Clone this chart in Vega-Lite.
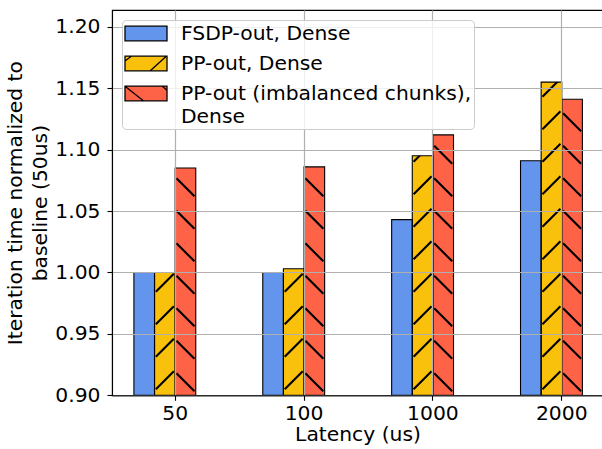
{
  "$schema": "https://vega.github.io/schema/vega-lite/v6.json",
  "width": 491,
  "height": 385.3,
  "autosize": {"type": "none"},
  "padding": {"left": 112, "top": 10, "right": -1, "bottom": 53.7},
  "background": "white",
  "config": {
    "view": {"stroke": "black", "strokeWidth": 1.1},
    "font": "DejaVu Sans",
    "axis": {
      "domainColor": "black",
      "domainWidth": 1.1,
      "tickColor": "black",
      "tickWidth": 1.1,
      "tickSize": 5,
      "tickRound": true,
      "labelColor": "black",
      "labelFontSize": 20.3,
      "labelFont": "DejaVu Sans",
      "titleFont": "DejaVu Sans",
      "titleFontSize": 20.3,
      "titleFontWeight": "normal",
      "titleColor": "black"
    },
    "legend": {
      "labelFont": "DejaVu Sans",
      "labelFontSize": 20.3,
      "labelColor": "black",
      "labelLimit": 400
    }
  },
  "data": {
    "values": [
      {"latency": "50", "series": "FSDP-out, Dense", "value": 1.0},
      {"latency": "100", "series": "FSDP-out, Dense", "value": 1.0},
      {"latency": "1000", "series": "FSDP-out, Dense", "value": 1.043},
      {"latency": "2000", "series": "FSDP-out, Dense", "value": 1.091},
      {"latency": "50", "series": "PP-out, Dense", "value": 1.0},
      {"latency": "100", "series": "PP-out, Dense", "value": 1.003},
      {"latency": "1000", "series": "PP-out, Dense", "value": 1.095},
      {"latency": "2000", "series": "PP-out, Dense", "value": 1.155},
      {"latency": "50", "series": "PP-out (imbalanced chunks), Dense", "value": 1.085},
      {"latency": "100", "series": "PP-out (imbalanced chunks), Dense", "value": 1.086},
      {"latency": "1000", "series": "PP-out (imbalanced chunks), Dense", "value": 1.112},
      {"latency": "2000", "series": "PP-out (imbalanced chunks), Dense", "value": 1.141}
    ]
  },
  "encoding": {
    "x": {
      "field": "latency",
      "type": "nominal",
      "sort": ["50", "100", "1000", "2000"],
      "scale": {"range": [0, 491], "paddingInner": 0.36, "paddingOuter": 0.085, "align": 1},
      "axis": {
        "title": "Latency (us)",
        "labelAngle": 0,
        "grid": true,
        "gridColor": "#b0b0b0",
        "gridOpacity": 1,
        "gridWidth": 1.2,
        "zindex": 1,
        "bandPosition": 0.5,
        "labelPadding": 3,
        "titlePadding": 1
      }
    },
    "xOffset": {
      "field": "series",
      "type": "nominal",
      "scale": {
        "domain": ["FSDP-out, Dense", "PP-out, Dense", "PP-out (imbalanced chunks), Dense", "_pad"],
        "paddingInner": 0,
        "paddingOuter": 0
      }
    },
    "y": {
      "field": "value",
      "type": "quantitative",
      "scale": {"domain": [0.9, 1.2137], "zero": false, "nice": false},
      "axis": {
        "values": [0.9, 0.95, 1.0, 1.05, 1.1, 1.15, 1.2],
        "format": ".2f",
        "title": ["Iteration time normalized to", "baseline (50us)"],
        "titleLineHeight": 25,
        "titlePadding": 4,
        "labelPadding": 7,
        "grid": true,
        "gridColor": "#b0b0b0",
        "gridOpacity": 1,
        "gridWidth": 1.2,
        "zindex": 1
      }
    }
  },
  "layer": [
    {
      "mark": {"type": "bar", "strokeWidth": 0},
      "encoding": {
        "y2": {"datum": 0.9},
        "fill": {
          "field": "series",
          "type": "nominal",
          "scale": {
            "domain": ["FSDP-out, Dense", "PP-out, Dense", "PP-out (imbalanced chunks), Dense"],
            "range": ["#6495ED", "#FAC10C", "#FF6347"]
          },
          "legend": {
            "title": null,
            "orient": "top-left",
            "offset": 10,
            "padding": 2,
            "fillColor": "rgba(255,255,255,0.8)",
            "strokeColor": "#cccccc",
            "cornerRadius": 4,
            "labelOffset": 34,
            "symbolSize": 441,
            "symbolOpacity": 1,
            "rowPadding": 8,
            "zindex": 2,
            "labelExpr": "datum.label == 'PP-out (imbalanced chunks), Dense' ? ['PP-out (imbalanced chunks),', 'Dense'] : datum.label",
            "encode": {
              "symbols": {"update": {"stroke": {"value": "black"}, "strokeWidth": {"value": 1.3}}},
              "labels": {"update": {"lineHeight": {"value": 23}}}
            }
          }
        }
      }
    },
    {
      "transform": [{"filter": "datum.series == 'PP-out, Dense'"}],
      "mark": {
        "type": "point",
        "shape": "M-0.9,-0.6L0.9,-2.4M-0.9,-3.85L0.9,-5.65M-0.9,-7.1L0.9,-8.9M-0.9,-10.35L0.9,-12.15M-0.9,-13.6L0.9,-15.4M-0.9,-16.85L0.9,-18.65M-0.9,-20.1L0.9,-21.9M-0.9,-23.35L0.9,-25.15M-0.9,-26.6L0.9,-28.4M-0.9,-29.85L0.9,-31.65M-0.9,-33.1L0.9,-34.9",
        "size": 400,
        "filled": false,
        "stroke": "black",
        "strokeWidth": 2.1,
        "opacity": 1
      },
      "encoding": {"y": {"datum": 0.9, "type": "quantitative"}}
    },
    {
      "transform": [{"filter": "datum.series == 'PP-out (imbalanced chunks), Dense'"}],
      "mark": {
        "type": "point",
        "shape": "M-0.9,-2.2L0.9,-0.4M-0.9,-5.45L0.9,-3.65M-0.9,-8.7L0.9,-6.9M-0.9,-11.95L0.9,-10.15M-0.9,-15.2L0.9,-13.4M-0.9,-18.45L0.9,-16.65M-0.9,-21.7L0.9,-19.9M-0.9,-24.95L0.9,-23.15M-0.9,-28.2L0.9,-26.4M-0.9,-31.45L0.9,-29.65M-0.9,-34.7L0.9,-32.9",
        "size": 400,
        "filled": false,
        "stroke": "black",
        "strokeWidth": 2.1,
        "opacity": 1
      },
      "encoding": {"y": {"datum": 0.9, "type": "quantitative"}}
    },
    {
      "transform": [{"filter": "datum.series != 'FSDP-out, Dense'"}],
      "mark": {"type": "bar", "fill": "white", "strokeWidth": 0},
      "encoding": {"y2": {"datum": 1.2}}
    },
    {
      "mark": {"type": "bar", "fillOpacity": 0, "stroke": "black", "strokeWidth": 1.1},
      "encoding": {"y2": {"datum": 0.9}}
    },
    {
      "transform": [{"filter": "false"}],
      "mark": {"type": "point", "filled": true, "size": 441, "opacity": 1, "stroke": "black", "strokeWidth": 1.3},
      "encoding": {
        "y": {"datum": 0.9, "type": "quantitative"},
        "fill": {"field": "series", "type": "nominal"},
        "shape": {
          "field": "series",
          "type": "nominal",
          "scale": {
            "domain": ["FSDP-out, Dense", "PP-out, Dense", "PP-out (imbalanced chunks), Dense"],
            "range": [
              "M-1,-0.7H3V0.7H-1Z",
              "M-1,-0.7H3V0.7H-1Z M1.41,0.7L2.93,-0.7 M-1,-0.24L-0.4,-0.7",
              "M-1,-0.7H3V0.7H-1Z M-1,-0.7L0.75,0.7 M2.55,-0.7L3,-0.3"
            ]
          },
          "legend": {
            "title": null,
            "orient": "top-left",
            "offset": 10,
            "padding": 2,
            "fillColor": "rgba(255,255,255,0.8)",
            "strokeColor": "#cccccc",
            "cornerRadius": 4,
            "labelOffset": 34,
            "symbolSize": 441,
            "symbolOpacity": 1,
            "rowPadding": 8,
            "zindex": 2,
            "labelExpr": "datum.label == 'PP-out (imbalanced chunks), Dense' ? ['PP-out (imbalanced chunks),', 'Dense'] : datum.label",
            "encode": {
              "symbols": {"update": {"stroke": {"value": "black"}, "strokeWidth": {"value": 1.3}}},
              "labels": {"update": {"lineHeight": {"value": 23}}}
            }
          }
        }
      }
    }
  ]
}
